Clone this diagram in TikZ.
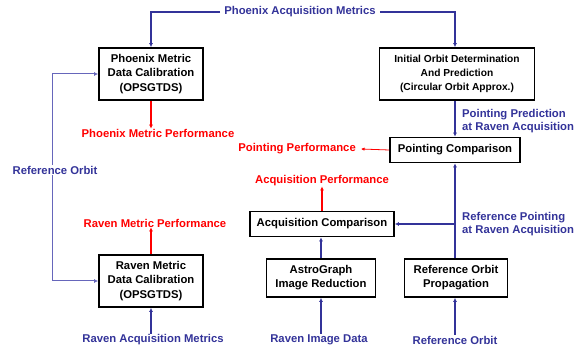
\documentclass[tikz,border=0pt]{standalone}
\usepackage{fontspec}
\setmainfont{Liberation Sans}
\usetikzlibrary{arrows.meta,calc}
\definecolor{flowblue}{HTML}{333399}
\definecolor{orbitblue}{HTML}{6666BB}
\definecolor{perfred}{HTML}{FF0000}
\tikzset{
  procbox/.style={draw=black, line width=1.7pt, fill=white, align=center,
    font=\bfseries\fontsize{11.3}{14.2}\selectfont, inner sep=0pt},
  bluelabel/.style={text=flowblue, font=\bfseries\fontsize{11.3}{13.5}\selectfont, inner sep=1pt},
  redlabel/.style={text=perfred, font=\bfseries\fontsize{11.3}{13.5}\selectfont, inner sep=1pt},
  bluearrow/.style={draw=flowblue, line width=1.3pt, -{Latex[length=4pt,width=4pt]}},
  orbitarrow/.style={draw=orbitblue, line width=1pt, -{Latex[length=4pt,width=4pt]}},
  redarrow/.style={draw=perfred, line width=1.6pt, -{Latex[length=4pt,width=4pt]}},
  thinred/.style={draw=perfred, line width=0.8pt, -{Latex[length=3.5pt,width=3.5pt]}},
}
\begin{document}
\begin{tikzpicture}[x=1pt,y=-1pt]
\useasboundingbox (0,0) rectangle (574,352);

% processing boxes
\node[procbox, minimum width=104pt, minimum height=52pt] (phx) at (151,74)
  {Phoenix Metric\\Data Calibration\\(OPSGTDS)};
\node[procbox, minimum width=155pt, minimum height=52pt,
  font=\bfseries\fontsize{10.2}{14.2}\selectfont] (iod) at (457,74)
  {Initial Orbit Determination\\And Prediction\\(Circular Orbit Approx.)};
\node[procbox, minimum width=130pt, minimum height=25pt] (pc) at (455,150)
  {Pointing Comparison};
\node[procbox, minimum width=144pt, minimum height=25pt] (acq) at (322,224)
  {Acquisition Comparison};
\node[procbox, minimum width=104pt, minimum height=52pt] (raven) at (151,281)
  {Raven Metric\\Data Calibration\\(OPSGTDS)};
\node[procbox, minimum width=109pt, minimum height=38pt] (astro) at (321,278)
  {AstroGraph\\Image Reduction};
\node[procbox, minimum width=103pt, minimum height=38pt] (rop) at (456,278)
  {Reference Orbit\\Propagation};

% data labels
\node[bluelabel] (pam) at (300,12) {Phoenix Acquisition Metrics};
\node[bluelabel, anchor=west, align=left] (pred) at (461,121)
  {Pointing Prediction\\at Raven Acquisition};
\node[bluelabel, anchor=west, align=left] (refpt) at (461,224)
  {Reference Pointing\\at Raven Acquisition};
\node[bluelabel] (refo) at (55,170) {Reference Orbit};
\node[bluelabel] (ram) at (153,340) {Raven Acquisition Metrics};
\node[bluelabel] (rid) at (319,340) {Raven Image Data};
\node[bluelabel] (ro) at (455,340) {Reference Orbit};

\node[redlabel] (pmp) at (158,133) {Phoenix Metric Performance};
\node[redlabel, anchor=east] (ppl) at (357,149) {Pointing Performance};
\node[redlabel] (acqp) at (322,181) {Acquisition Performance};
\node[redlabel] (rmp) at (155,223) {Raven Metric Performance};

% inputs from the top
\draw[bluearrow] ($(pam.west)+(-3,0)$) -| (phx.north);
\draw[bluearrow] ($(pam.east)+(3,0)$) -| (iod.north -| pc.north);
\draw[bluearrow] (iod.south -| pc.north) -- (pc.north);

% reference orbit feed
\draw[orbitarrow] (refo.north -| 52,0) |- (phx.west);
\draw[orbitarrow] (refo.south -| 52,0) |- (raven.west);

% bottom inputs
\draw[bluearrow] (ram.north -| raven.south) -- (raven.south);
\draw[bluearrow] (rid.north -| astro.south) -- (astro.south);
\draw[bluearrow] (ro.north -| pc.south) -- (rop.south -| pc.south);

% comparisons
\draw[bluearrow] (rop.north -| pc.south) -- (pc.south);
\coordinate (tap) at (pc.south |- acq.east);
\draw[bluearrow] (tap) -- (acq.east);
\draw[bluearrow] (astro.north) -- (astro.north |- acq.south);

% performance outputs
\draw[redarrow] (phx.south) -- ($(pmp.north -| phx.south)+(0,1)$);
\draw[redarrow] (raven.north) -- ($(rmp.south -| raven.north)+(0,-1)$);
\draw[redarrow, line width=1.2pt] (acq.north) -- ($(acqp.south -| acq.north)+(0,-1)$);
\draw[thinred] (pc.west) -- ($(ppl.east)+(4,0)$);
\end{tikzpicture}
\end{document}
